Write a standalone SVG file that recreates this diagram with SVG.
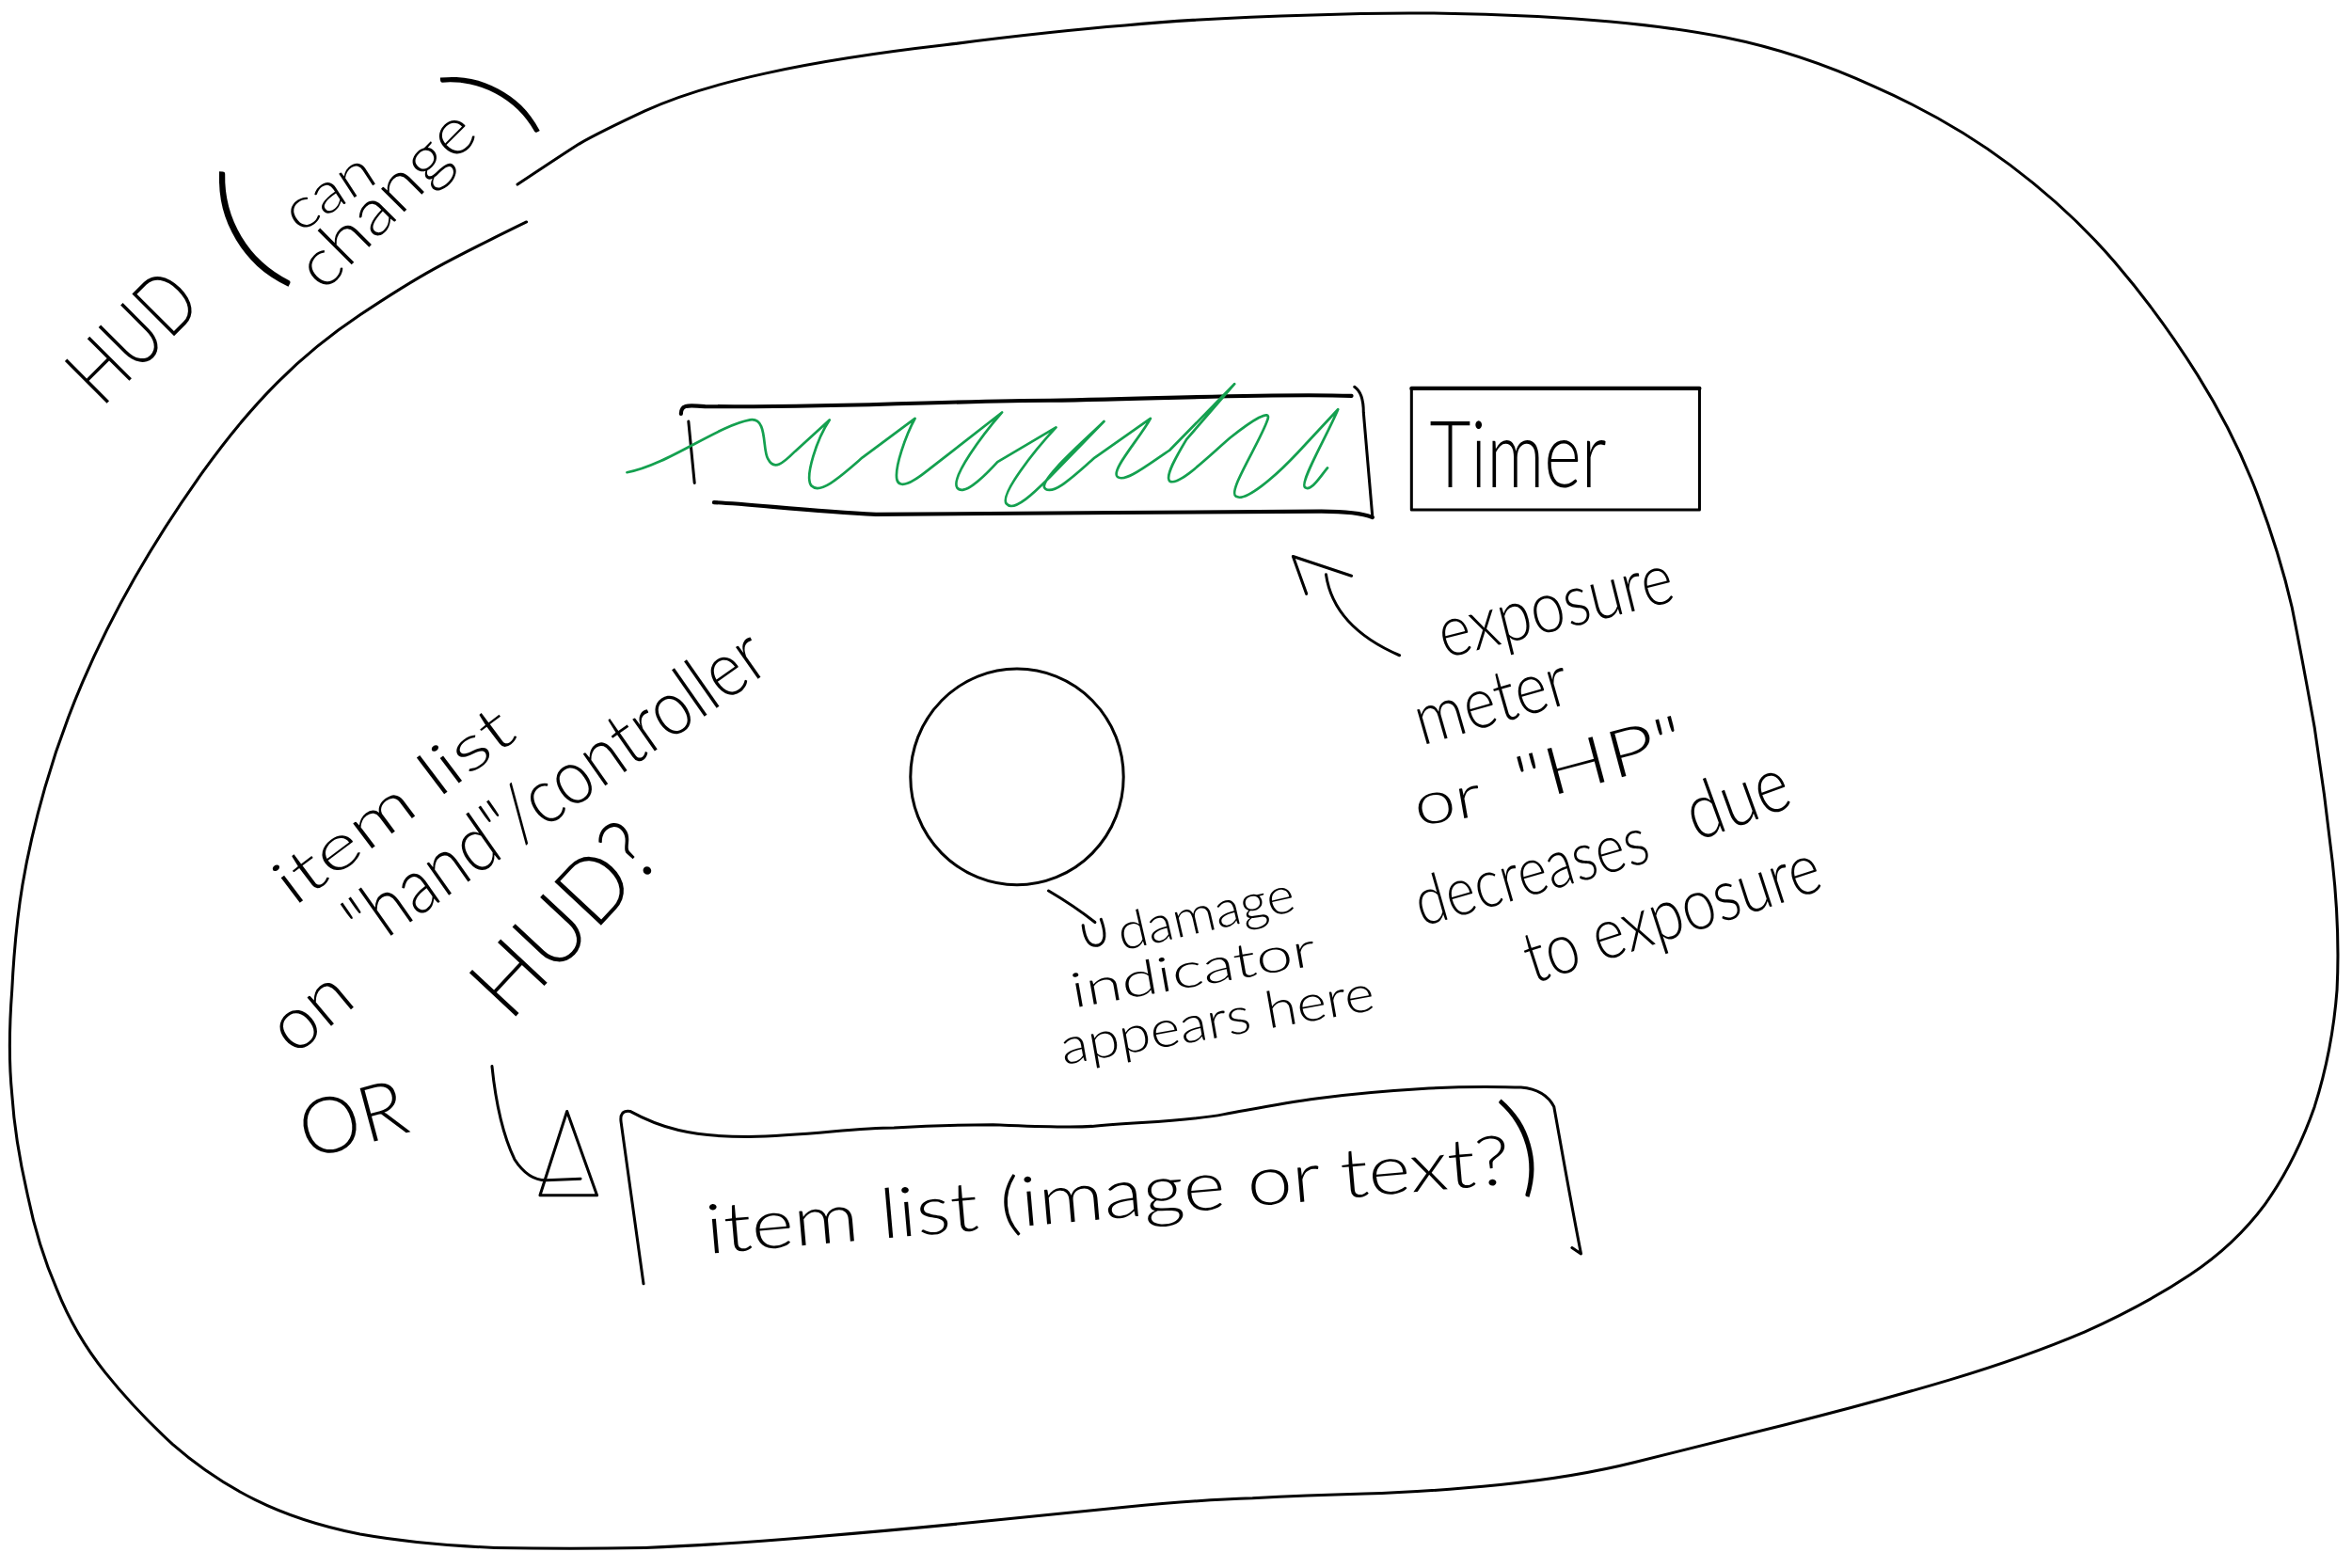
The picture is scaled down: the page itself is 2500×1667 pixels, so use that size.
<svg xmlns="http://www.w3.org/2000/svg" width="2500" height="1667" viewBox="0 0 2500 1667">
<style>
.ln{fill:none;stroke:#000;stroke-width:1.9;stroke-linecap:round;stroke-linejoin:round}
.thk{stroke-width:2.6}
.grn{fill:none;stroke:#14a04f;stroke-width:1.7;stroke-linecap:round;stroke-linejoin:round}
.t{font-family:Lato,"Liberation Sans",sans-serif;font-weight:300;fill:#000}
</style>
<rect width="2500" height="1667" fill="#fff"/>
<g transform="scale(1.59439)">
<g id="hud">
<path class="ln" d="M345,123 Q372,105 386,96 Q400,88 430,74 Q460,60 510,49 Q560,38 630,30 Q700,21 750,17 Q800,12 875,10 Q950,7 1025,11 Q1100,15 1150,25 Q1200,35 1250,58 Q1300,80 1340,110 Q1380,140 1410,175 Q1440,210 1465,250 Q1490,290 1505,330 Q1520,370 1528,405 Q1535,440 1543,485 Q1550,530 1555,575 Q1560,620 1558,660 Q1555,700 1543,738 Q1530,775 1510,803 Q1490,830 1460,850 Q1430,870 1390,888 Q1350,905 1300,920 Q1250,935 1190,950 Q1130,965 1090,975 Q1050,985 1000,990 Q950,995 910,996 Q870,997 835,999 Q800,1000 750,1005 Q700,1010 650,1015 Q600,1020 540,1025 Q480,1030 430,1032 Q380,1033 330,1032 Q280,1030 240,1023 Q200,1015 170,1000 Q140,985 115,963 Q90,940 70,915 Q50,890 38,860 Q25,830 18,795 Q10,760 8,730 Q5,700 8,660 Q10,620 15,590 Q20,560 30,525 Q40,490 55,455 Q70,420 90,385 Q110,350 135,315 Q160,280 185,255 Q210,230 240,210 Q270,190 290,179 Q310,168 351,148"/>
<text class="t" font-size="56" textLength="96" lengthAdjust="spacingAndGlyphs" transform="translate(68,272) rotate(-45)">HUD</text>
<text class="t" font-size="100" text-anchor="middle" dominant-baseline="central" transform="translate(160,150) rotate(-31)">(</text>
<text class="t" font-size="38" textLength="64" lengthAdjust="spacingAndGlyphs" text-anchor="middle" dominant-baseline="central" transform="translate(218,126) rotate(-33)">can</text>
<text class="t" font-size="44" textLength="148" lengthAdjust="spacingAndGlyphs" text-anchor="middle" dominant-baseline="central" transform="translate(256,131) rotate(-45)">change</text>
<text class="t" font-size="84" text-anchor="middle" dominant-baseline="central" transform="translate(324,62) rotate(-62)">)</text>
</g>
<g id="meter">
<path class="ln thk" d="M454,276 C454,270 457,270 470,271 C560,272 640,267 700,267 C780,266 850,262 901,264"/>
<path class="ln" d="M903,258 Q909,262 909,275 L915,345"/>
<path class="ln thk" d="M476,335 C500,336 540,341 584,343 C650,343 800,341 881,341 C900,341 910,343 915,345"/>
<path class="ln" d="M459,281 L463,322"/>
<path class="grn" d="M418,315 C445,310 478,284 500,280 C512,278 508,300 512,306 C516,314 522,309 530,301 L553,280 C545,292 536,318 541,324 C547,330 560,318 575,305 L610,279 C604,290 596,312 598,320 C600,326 608,322 618,314 L668,275 C655,290 634,318 638,325 C642,331 654,320 665,308 L704,285 C690,300 666,330 671,336 C676,342 690,328 700,318 L736,281 C725,292 690,322 697,326 C703,330 715,318 730,305 L767,279 C760,292 740,314 745,318 C750,322 765,310 780,300 L823,256 L791,293 C785,303 776,318 780,321 C786,324 805,305 820,292 C835,280 848,272 845,280 C840,295 818,328 824,331 C830,335 850,318 865,302 L892,273 C885,290 866,322 870,325 C874,328 880,318 885,312"/>
</g>
<g id="timer">
<rect class="ln" x="941" y="259" width="192" height="81"/>
<path class="ln thk" d="M941,259 L1133,259"/>
<text class="t" font-size="62" textLength="118" lengthAdjust="spacingAndGlyphs" x="953" y="325">Timer</text>
</g>
<g id="crosshair">
<ellipse class="ln" cx="678" cy="518" rx="71" ry="72"/>
</g>
<g id="itemlist">
<path class="ln" d="M429,856 L414,748 Q413,740 420,741 C440,752 460,758 499,758 C540,757 570,752 596,752 C630,750 650,750 662,750 C690,751 710,752 728,751 C760,748 790,748 816,743 C850,737 880,730 948,726 C980,724 1000,725 1014,725 C1025,726 1032,730 1036,738 C1040,760 1046,795 1054,836 L1048,832"/>
<text class="t" font-size="46" textLength="538" lengthAdjust="spacingAndGlyphs" transform="translate(472,836) rotate(-5)">item list (image or text?</text>
<text class="t" font-size="76" transform="translate(1012,790) rotate(-16)">)</text>
</g>
<g id="hand">
<path class="ln" d="M328,711 Q332,750 343,773 Q352,787 364,787 L387,786"/>
<polygon class="ln" points="378,741 398,797 360,797"/>
</g>
<g id="connectors">
<path class="ln" d="M871,396 L862,371 L901,384"/>
<path class="ln" d="M884,383 Q889,418 933,437"/>
<path class="ln" d="M699,594 Q716,604 730,615"/>
<path class="ln" d="M722,617 Q724,633 733,630 Q739,627 734,613"/>
</g>
<g id="notes">
<text class="t" font-size="48" textLength="160" lengthAdjust="spacingAndGlyphs" transform="translate(963,439) rotate(-14)">exposure</text>
<text class="t" font-size="48" textLength="105" lengthAdjust="spacingAndGlyphs" transform="translate(948,497) rotate(-16)">meter</text>
<text class="t" font-size="40" textLength="45" lengthAdjust="spacingAndGlyphs" transform="translate(945,551) rotate(-10)">or</text>
<text class="t" font-size="44" textLength="115" lengthAdjust="spacingAndGlyphs" transform="translate(1015,536) rotate(-15)">"HP"</text>
<text class="t" font-size="45" textLength="160" lengthAdjust="spacingAndGlyphs" transform="translate(948,618) rotate(-16)">decreases</text>
<text class="t" font-size="52" textLength="70" lengthAdjust="spacingAndGlyphs" transform="translate(1131,561) rotate(-20)">due</text>
<text class="t" font-size="48" textLength="205" lengthAdjust="spacingAndGlyphs" transform="translate(1022,656) rotate(-18)">to exposure</text>
<text class="t" font-size="34" textLength="120" lengthAdjust="spacingAndGlyphs" transform="translate(748,634) rotate(-13)">damage</text>
<text class="t" font-size="32" textLength="165" lengthAdjust="spacingAndGlyphs" transform="translate(716,672) rotate(-10)">indicator</text>
<text class="t" font-size="34" textLength="212" lengthAdjust="spacingAndGlyphs" transform="translate(709,710) rotate(-10)">appears here</text>
<text class="t" font-size="42" textLength="188" lengthAdjust="spacingAndGlyphs" transform="translate(196,605) rotate(-37)">item list</text>
<text class="t" font-size="52" textLength="330" lengthAdjust="spacingAndGlyphs" transform="translate(245,635) rotate(-35)">"hand"/controller</text>
<text class="t" font-size="60" textLength="150" lengthAdjust="spacingAndGlyphs" transform="translate(340,682) rotate(-47)">HUD?</text>
<text class="t" font-size="50" text-anchor="middle" dominant-baseline="central" transform="translate(205,672) rotate(-40)">on</text>
<text class="t" font-size="52" textLength="72" lengthAdjust="spacingAndGlyphs" transform="translate(205,773) rotate(-15)">OR</text>
</g>
</g>
</svg>
